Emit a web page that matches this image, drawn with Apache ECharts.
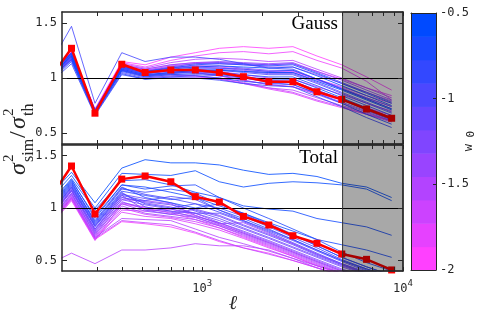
<!DOCTYPE html>
<html><head><meta charset="utf-8">
<script src="https://cdn.jsdelivr.net/npm/echarts@6/dist/echarts.min.js"></script>
<style>html,body{margin:0;padding:0;background:#fff}#c{width:484px;height:326px}</style>
</head><body><div id="c"></div>
<script>
// multipole bins (ell) — first bin lies left of the axis and is clipped
const ell = [170, 223, 292, 397, 519, 697, 923, 1216, 1603, 2145, 2828, 3727, 4955, 6583, 8779];

// reference (red) curves
const gaussRef = [0.97, 1.27, 0.68, 1.125, 1.05, 1.073, 1.073, 1.05, 1.012, 0.966, 0.966, 0.875, 0.806, 0.718, 0.634];
const totalRef = [1.06, 1.40, 0.943, 1.275, 1.305, 1.25, 1.108, 1.057, 0.92, 0.838, 0.736, 0.664, 0.562, 0.511, 0.41];

// ensemble runs, Gauss panel
const gaussW0 = [-0.5, -0.55, -0.6, -0.65, -0.7, -0.75, -0.8, -0.85, -0.9, -0.95, -1.0, -1.05, -1.1, -1.2, -1.25, -1.3, -1.35, -1.4, -1.45, -1.5, -1.55, -1.6, -1.65, -1.7, -1.75, -1.8, -1.85, -1.9, -1.95, -2.0];
const gaussRuns = [
  [1.00,1.20,0.69,1.08,1.03,1.05,1.07,1.07,1.06,1.05,1.05,0.97,0.89,0.80,0.71],
  [1.02,1.22,0.70,1.10,1.05,1.08,1.10,1.11,1.10,1.09,1.10,1.02,0.93,0.84,0.75],
  [0.97,1.17,0.68,1.06,1.01,1.03,1.04,1.03,1.01,0.99,0.99,0.91,0.82,0.73,0.64],
  [1.03,1.23,0.71,1.11,1.06,1.09,1.12,1.13,1.12,1.11,1.12,1.04,0.95,0.86,0.77],
  [0.99,1.19,0.69,1.07,1.02,1.04,1.06,1.05,1.03,1.01,1.01,0.93,0.84,0.75,0.66],
  [0.95,1.15,0.67,1.04,0.99,1.01,1.02,1.00,0.97,0.95,0.94,0.86,0.77,0.67,0.58],
  [1.01,1.21,0.70,1.09,1.04,1.07,1.09,1.09,1.08,1.06,1.07,0.99,0.90,0.81,0.72],
  [0.94,1.13,0.66,1.03,0.99,1.00,1.00,0.98,0.95,0.93,0.92,0.83,0.74,0.64,0.55],
  [1.09,1.47,0.77,1.23,1.15,1.19,1.19,1.17,1.13,1.09,1.08,0.99,0.90,0.81,0.72],
  [0.98,1.18,0.68,1.07,1.02,1.05,1.07,1.07,1.05,1.03,1.03,0.95,0.86,0.77,0.68],
  [1.02,1.22,0.70,1.11,1.06,1.10,1.13,1.14,1.13,1.12,1.13,1.05,0.96,0.87,0.78],
  [0.96,1.16,0.67,1.05,1.00,1.02,1.03,1.02,1.00,0.97,0.97,0.89,0.80,0.71,0.62],
  [1.00,1.20,0.69,1.09,1.04,1.07,1.08,1.08,1.06,1.04,1.04,0.96,0.87,0.78,0.69],
  [0.97,1.17,0.68,1.07,1.02,1.04,1.05,1.04,1.01,0.98,0.97,0.89,0.81,0.72,0.64],
  [1.01,1.21,0.70,1.10,1.06,1.09,1.11,1.11,1.09,1.07,1.07,0.99,0.91,0.82,0.74],
  [0.99,1.19,0.69,1.09,1.04,1.06,1.06,1.04,1.00,0.96,0.94,0.86,0.78,0.70,0.62],
  [1.03,1.23,0.71,1.12,1.08,1.12,1.14,1.15,1.14,1.13,1.14,1.06,0.98,0.89,0.80],
  [0.98,1.18,0.68,1.08,1.03,1.05,1.05,1.02,0.98,0.94,0.92,0.85,0.77,0.69,0.61],
  [1.00,1.20,0.69,1.10,1.06,1.09,1.10,1.09,1.07,1.05,1.05,0.98,0.90,0.82,0.74],
  [1.01,1.21,0.70,1.11,1.07,1.11,1.13,1.13,1.12,1.10,1.10,1.03,0.95,0.87,0.79],
  [0.97,1.17,0.68,1.07,1.02,1.03,1.02,0.99,0.95,0.91,0.89,0.82,0.75,0.68,0.61],
  [1.02,1.22,0.71,1.13,1.09,1.14,1.17,1.18,1.17,1.15,1.16,1.08,1.00,0.91,0.82],
  [0.99,1.19,0.69,1.09,1.05,1.07,1.08,1.06,1.03,1.00,0.99,0.92,0.85,0.77,0.70],
  [0.98,1.18,0.68,1.08,1.03,1.03,1.02,1.00,0.96,0.91,0.87,0.80,0.74,0.67,0.60],
  [1.00,1.20,0.70,1.11,1.07,1.10,1.11,1.10,1.08,1.06,1.06,0.99,0.92,0.84,0.77],
  [0.97,1.17,0.68,1.07,1.01,1.01,1.01,0.99,0.95,0.90,0.86,0.79,0.73,0.67,0.61],
  [1.01,1.21,0.70,1.12,1.08,1.12,1.14,1.14,1.13,1.12,1.13,1.06,0.99,0.91,0.84],
  [1.02,1.23,0.71,1.14,1.10,1.16,1.20,1.23,1.24,1.22,1.24,1.16,1.09,0.97,0.80],
  [1.00,1.20,0.69,1.10,1.05,1.06,1.05,1.02,0.98,0.94,0.92,0.86,0.80,0.73,0.66],
  [1.03,1.24,0.72,1.15,1.12,1.19,1.23,1.27,1.285,1.27,1.285,1.20,1.12,1.01,0.89]
];

// ensemble runs, Total panel
const totalW0 = [-0.5, -0.55, -0.6, -0.65, -0.7, -0.75, -0.8, -0.85, -0.9, -0.95, -1.0, -1.05, -1.1, -1.15, -1.2, -1.25, -1.3, -1.35, -1.4, -1.45, -1.5, -1.55, -1.6, -1.65, -1.7, -1.75, -1.8, -1.85, -1.6, -1.95];
const totalRuns = [
  [1.10,1.34,1.05,1.38,1.46,1.43,1.43,1.41,1.36,1.32,1.33,1.30,1.235,1.20,1.10],
  [1.06,1.31,1.00,1.33,1.32,1.31,1.355,1.25,1.20,1.235,1.25,1.24,1.22,1.18,1.07],
  [1.02,1.28,0.98,1.26,1.27,1.22,1.15,1.10,1.02,0.99,0.97,0.90,0.86,0.82,0.74],
  [0.98,1.26,0.92,1.22,1.20,1.15,1.10,1.02,0.95,0.86,0.78,0.70,0.65,0.60,0.53],
  [1.00,1.27,0.90,1.22,1.18,1.21,1.22,1.10,1.00,0.90,0.80,0.70,0.58,0.48,0.40],
  [0.96,1.24,0.88,1.20,1.10,1.05,1.00,1.04,0.95,0.85,0.75,0.64,0.53,0.44,0.36],
  [0.94,1.22,0.85,1.16,1.12,1.08,1.10,0.98,0.90,0.80,0.70,0.60,0.50,0.42,0.35],
  [0.97,1.25,0.86,1.18,1.15,1.18,1.14,1.04,0.94,0.84,0.74,0.64,0.53,0.44,0.36],
  [0.92,1.20,0.83,1.14,1.04,1.00,1.04,1.00,0.92,0.82,0.72,0.62,0.51,0.42,0.34],
  [0.95,1.23,0.87,1.19,1.13,1.09,1.04,0.96,0.88,0.79,0.70,0.60,0.50,0.41,0.33],
  [0.91,1.19,0.82,1.12,1.07,1.11,1.08,0.98,0.88,0.78,0.69,0.59,0.49,0.40,0.32],
  [0.93,1.21,0.84,1.15,1.01,0.97,0.95,0.95,0.87,0.77,0.67,0.57,0.47,0.39,0.31],
  [0.89,1.17,0.80,1.10,1.06,1.03,0.98,0.92,0.83,0.74,0.65,0.55,0.46,0.38,0.30],
  [0.92,1.20,0.83,1.13,1.09,1.05,0.97,0.90,0.81,0.72,0.63,0.54,0.45,0.37,0.29],
  [0.88,1.16,0.78,1.08,1.03,0.99,0.95,0.88,0.80,0.71,0.62,0.53,0.44,0.36,0.28],
  [0.90,1.18,0.80,1.12,0.98,0.94,0.99,0.93,0.84,0.75,0.66,0.56,0.47,0.38,0.30],
  [0.86,1.14,0.76,1.06,0.99,0.96,0.92,0.86,0.78,0.69,0.60,0.51,0.42,0.34,0.27],
  [0.89,1.17,0.79,1.10,1.05,1.01,0.95,0.86,0.77,0.68,0.59,0.50,0.41,0.33,0.26],
  [0.85,1.13,0.75,1.04,0.97,0.94,0.91,0.84,0.76,0.67,0.58,0.49,0.40,0.33,0.26],
  [0.88,1.16,0.77,1.08,1.07,1.04,0.93,0.85,0.86,0.76,0.66,0.56,0.46,0.37,0.29],
  [0.84,1.12,0.73,1.02,0.95,0.92,0.89,0.83,0.75,0.66,0.57,0.48,0.39,0.32,0.25],
  [0.83,1.10,0.72,0.90,0.89,0.88,0.80,0.72,0.66,0.59,0.52,0.45,0.38,0.31,0.24],
  [0.86,1.14,0.74,1.05,1.01,0.97,0.91,0.83,0.74,0.65,0.56,0.47,0.38,0.31,0.24],
  [0.82,1.09,0.71,0.88,0.86,0.84,0.77,0.69,0.62,0.56,0.50,0.43,0.36,0.30,0.23],
  [0.84,1.11,0.72,1.00,0.94,0.91,0.87,0.81,0.73,0.64,0.55,0.46,0.38,0.30,0.23],
  [0.81,1.08,0.70,0.98,0.97,0.99,0.93,0.85,0.76,0.67,0.58,0.49,0.40,0.32,0.25],
  [0.83,1.10,0.71,0.96,0.92,0.90,0.85,0.79,0.71,0.62,0.54,0.45,0.37,0.29,0.22],
  [0.80,1.07,0.69,1.04,1.00,0.95,0.89,0.81,0.72,0.63,0.54,0.45,0.37,0.29,0.22],
  [0.46,0.57,0.47,0.60,0.60,0.62,0.66,0.64,0.64,0.60,0.52,0.43,0.36,0.30,0.25],
  [0.82,1.09,0.70,0.87,0.85,0.82,0.76,0.68,0.62,0.57,0.50,0.43,0.36,0.29,0.22]
];

// axes
const xRange = [200, 10000];
const yRange = [0.4, 1.6];
const yTicks = [0.5, 1, 1.5];
const xTicks = [300, 400, 500, 600, 700, 800, 900, 1000, 2000, 3000, 4000, 5000, 6000, 7000, 8000, 9000, 10000];
const xLabels = [1000, 10000];
const shadeFrom = 5000;
const cbRange = [-2, -0.5];
const cbTicks = [-2, -1.5, -1, -0.5];
const cbSteps = 11;

const INK = '#262626';
const MONO = 'DejaVu Sans Mono';
const SERIF = 'Liberation Serif';

function cmap(w, a) {
  const t = (w - cbRange[0]) / (cbRange[1] - cbRange[0]);
  const r = Math.round(255 * (1 - t));
  const g = Math.round(64 + 10 * t);
  return 'rgba(' + r + ',' + g + ',255,' + a + ')';
}

function logX(gi, pos, labels) {
  return {
    type: 'log', logBase: 10, gridIndex: gi, position: pos, min: xRange[0], max: xRange[1], z: 10,
    axisLine: {show: true, onZero: false, lineStyle: {color: INK, width: 1.5}},
    axisTick: {show: true, inside: true, length: 4, customValues: xTicks, lineStyle: {color: INK, width: 1}},
    axisLabel: {show: labels, customValues: xLabels, margin: 8, color: INK,
      formatter: v => '{b|10}{s|' + Math.round(Math.log10(v)) + '}',
      rich: {b: {fontFamily: MONO, fontSize: 12, color: INK, lineHeight: 20},
             s: {fontFamily: MONO, fontSize: 9, color: INK, verticalAlign: 'top', lineHeight: 10}}},
    splitLine: {show: false}
  };
}
function valY(gi, pos, labels) {
  return {
    type: 'value', gridIndex: gi, position: pos, min: yRange[0], max: yRange[1], z: 10,
    axisLine: {show: true, onZero: false, lineStyle: {color: INK, width: 1.5}},
    axisTick: {show: true, inside: true, length: 5, customValues: yTicks, lineStyle: {color: INK, width: 1}},
    axisLabel: {show: labels, customValues: yTicks, margin: 5, color: INK, fontFamily: MONO, fontSize: 12,
      formatter: v => String(v)},
    splitLine: {show: false}
  };
}

const series = [];
function addPanel(idx, runs, ws, ref) {
  // draw magenta (low w0) first so the blue runs end up on top
  const order = runs.map((r, i) => i).sort((a, b) => ws[a] - ws[b]);
  order.forEach(i => {
    const run = runs[i];
    series.push({
      type: 'line', xAxisIndex: idx, yAxisIndex: idx, silent: true, clip: true, z: 2,
      symbol: 'none', data: ell.map((x, j) => [x, run[j]]),
      lineStyle: {width: 1, color: cmap(ws[i], 0.82)}
    });
  });
  series.push({
    type: 'line', xAxisIndex: idx, yAxisIndex: idx, silent: true, clip: true, z: 6,
    symbol: 'rect', symbolSize: 7, data: ell.map((x, j) => [x, ref[j]]),
    lineStyle: {width: 2.5, color: '#ff0000'}, itemStyle: {color: '#ff0000'},
    markLine: {silent: true, z: 5, symbol: ['none', 'none'], label: {show: false},
      lineStyle: {color: '#000', width: 1, type: 'solid'}, data: [{yAxis: 1}]},
    markArea: {silent: true, z: 8, itemStyle: {color: 'rgba(0,0,0,0.34)', borderColor: '#333', borderWidth: 1},
      data: [[{xAxis: shadeFrom}, {xAxis: xRange[1]}]]}
  });
}

const cbData = [];
for (let i = 0; i < cbSteps; i++) {
  const lo = cbRange[0] + (cbRange[1] - cbRange[0]) * i / cbSteps;
  const hi = cbRange[0] + (cbRange[1] - cbRange[0]) * (i + 1) / cbSteps;
  const w = cbRange[0] + (cbRange[1] - cbRange[0]) * i / (cbSteps - 1);
  cbData.push([0.5, lo, hi, w]);
}

const chart = echarts.init(document.getElementById('c'), null, {renderer: 'canvas'});
const option = {
  animation: false,
  backgroundColor: '#fff',
  grid: [
    {left: 62, top: 12, width: 341, height: 132},
    {left: 62, top: 145, width: 341, height: 126},
    {left: 411, top: 13, width: 25, height: 257}
  ],
  xAxis: [
    logX(0, 'bottom', false), logX(0, 'top', false),
    logX(1, 'bottom', true), logX(1, 'top', false),
    {type: 'value', gridIndex: 2, position: 'bottom', min: 0, max: 1, z: 10, axisLine: {show: true, onZero: false, lineStyle: {color: INK, width: 1}}, axisTick: {show: false}, axisLabel: {show: false}, splitLine: {show: false}},
    {type: 'value', gridIndex: 2, position: 'top', min: 0, max: 1, z: 10, axisLine: {show: true, onZero: false, lineStyle: {color: INK, width: 1}}, axisTick: {show: false}, axisLabel: {show: false}, splitLine: {show: false}}
  ],
  yAxis: [
    valY(0, 'left', true), valY(0, 'right', false),
    valY(1, 'left', true), valY(1, 'right', false),
    {type: 'value', gridIndex: 2, position: 'right', min: cbRange[0], max: cbRange[1], z: 10,
     axisLine: {show: true, onZero: false, lineStyle: {color: INK, width: 1}},
     axisTick: {show: true, inside: true, length: 3, customValues: cbTicks, lineStyle: {color: INK}},
     axisLabel: {show: true, customValues: cbTicks, margin: 4, color: INK, fontFamily: MONO, fontSize: 12, formatter: v => String(v)},
     splitLine: {show: false}},
    {type: 'value', gridIndex: 2, position: 'left', min: cbRange[0], max: cbRange[1], z: 10,
     axisLine: {show: true, onZero: false, lineStyle: {color: INK, width: 1}}, axisTick: {show: false}, axisLabel: {show: false}, splitLine: {show: false}}
  ],
  series: series,
  graphic: [
    {type: 'text', x: 338, y: 24, z: 20, style: {text: 'Gauss', fontFamily: SERIF, fontSize: 19, fill: '#000', align: 'right', verticalAlign: 'middle'}},
    {type: 'text', x: 338, y: 158, z: 20, style: {text: 'Total', fontFamily: SERIF, fontSize: 19, fill: '#000', align: 'right', verticalAlign: 'middle'}},
    {type: 'text', x: 233, y: 304, z: 20, style: {text: 'ℓ', fontFamily: 'DejaVu Serif', fontStyle: 'italic', fontSize: 20, fill: INK, align: 'center', verticalAlign: 'middle'}},
    {type: 'text', x: 469, y: 141, z: 20, rotation: Math.PI / 2, style: {text: '{a|w}{b| 0}', align: 'center', verticalAlign: 'middle',
      rich: {a: {fontFamily: MONO, fontSize: 12, fill: INK, lineHeight: 16}, b: {fontFamily: MONO, fontSize: 11, fill: INK, verticalAlign: 'bottom', lineHeight: 12}}}},
    {type: 'group', x: 19, y: 133, rotation: Math.PI / 2, z: 20, children: [
      {type: 'text', x: -42, y: 0, style: {text: 'σ', fontFamily: SERIF, fontStyle: 'italic', fontSize: 24, fill: INK, align: 'left', verticalAlign: 'middle'}},
      {type: 'text', x: -29, y: -10, style: {text: '2', fontFamily: SERIF, fontSize: 15, fill: INK, align: 'left', verticalAlign: 'middle'}},
      {type: 'text', x: -29, y: 10, style: {text: 'sim', fontFamily: SERIF, fontSize: 16, fill: INK, align: 'left', verticalAlign: 'middle'}},
      {type: 'text', x: -5, y: 0, style: {text: '/', fontFamily: SERIF, fontSize: 24, fill: INK, align: 'left', verticalAlign: 'middle'}},
      {type: 'text', x: 4, y: 0, style: {text: 'σ', fontFamily: SERIF, fontStyle: 'italic', fontSize: 24, fill: INK, align: 'left', verticalAlign: 'middle'}},
      {type: 'text', x: 17, y: -10, style: {text: '2', fontFamily: SERIF, fontSize: 15, fill: INK, align: 'left', verticalAlign: 'middle'}},
      {type: 'text', x: 17, y: 10, style: {text: 'th', fontFamily: SERIF, fontSize: 16, fill: INK, align: 'left', verticalAlign: 'middle'}}
    ]}
  ]
};
addPanel(0, gaussRuns, gaussW0, gaussRef);   // axes 0 (bottom x / left y of top grid)
addPanel(2, totalRuns, totalW0, totalRef);   // axes 2 (bottom x / left y of lower grid)
series.push({
  type: 'custom', xAxisIndex: 4, yAxisIndex: 4, silent: true, z: 2,
  data: cbData, encode: {x: 0, y: [1, 2]},
  renderItem: (params, api) => {
    const p0 = api.coord([0, api.value(1)]);
    const p1 = api.coord([1, api.value(2)]);
    return {type: 'rect', shape: {x: p0[0], y: p1[1], width: p1[0] - p0[0], height: p0[1] - p1[1] + 0.5},
      style: {fill: cmap(api.value(3), 1)}};
  }
});
chart.setOption(option);
</script></body></html>
